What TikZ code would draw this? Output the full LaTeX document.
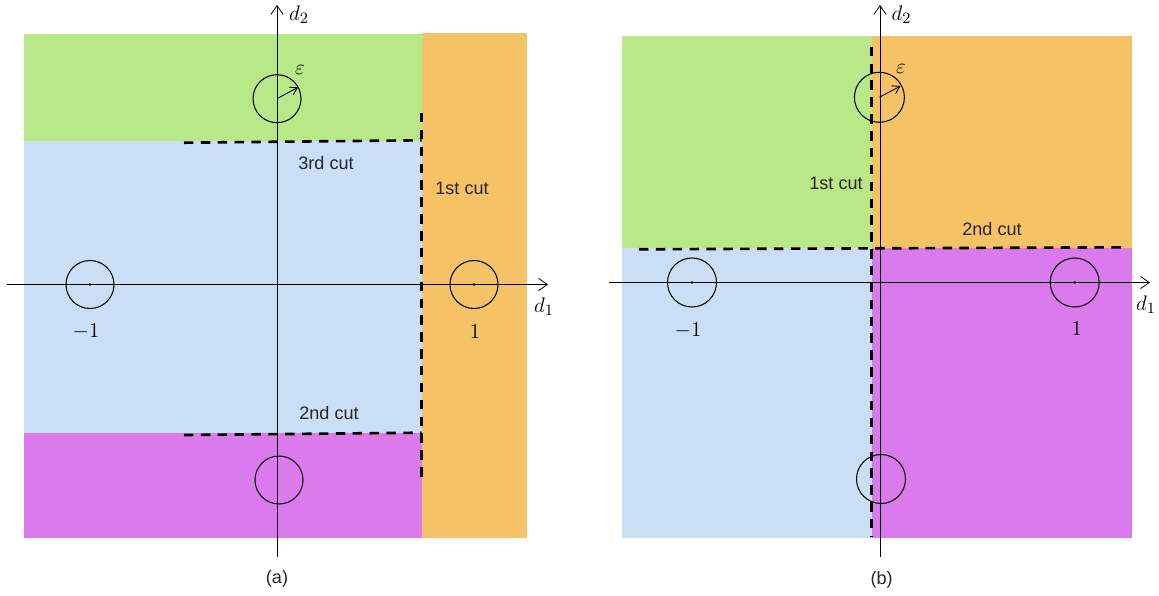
\documentclass[tikz,border=0pt]{standalone}
\usepackage{amsmath}
\usepackage{amssymb}
\usepackage{fontspec}
\newfontfamily\cutfont{Liberation Sans}
\usepackage{tikz}
\usetikzlibrary{arrows.meta}
\definecolor{greenreg}{RGB}{185,232,137}
\definecolor{bluereg}{RGB}{202,222,245}
\definecolor{purplereg}{RGB}{218,122,236}
\definecolor{orangereg}{RGB}{246,194,102}

\tikzset{
	>={Straight Barb[length=5pt,width=7pt]},
	axis/.style={->, line width=0.45pt},
	cut/.style={line width=1.5pt, dash pattern=on 5.4pt off 4.2pt},
	ball/.style={line width=0.6pt},
	radius arrow/.style={line width=0.5pt, -{Straight Barb[length=4pt,width=5pt]}},
	cutlabel/.style={font=\cutfont\fontsize{10.3}{12.4}\selectfont, text=black!85},
	mathlabel/.style={font=\fontsize{13}{15}\selectfont},
}

\begin{document}
\begin{tikzpicture}[x=0.02cm, y=-0.02cm]
	\useasboundingbox (0,0) rectangle (1159,595);

	% (a)
	\fill[greenreg] (24,34) rectangle (421.5,141);
	\fill[bluereg] (24,141) rectangle (421.5,433);
	\fill[purplereg] (24,433) rectangle (421.5,538);
	\fill[orangereg] (421.5,33) rectangle (527.4,538);

	\draw[cut] (184,142.7) -- (421.5,140.3);
	\draw[cut] (421.5,113) -- (421.5,477);
	\draw[cut] (184,435) -- (421.5,432.7);

	\draw[axis] (6.7,284.5) -- (548,284.5);
	\draw[axis] (277,556.7) -- (277,5);

	\draw[ball] (277,98.7) circle[radius=24];
	\draw[radius arrow] (277,98.7) -- (298,87.3);
	\draw[ball] (90,284.5) circle[radius=24];
	\fill (90,284.5) circle[radius=1.3];
	\draw[ball] (474,284.5) circle[radius=24];
	\fill (474,284.5) circle[radius=1.3];
	\draw[ball] (279,480) circle[radius=24];

	\node[mathlabel] (d2a) at (299,15) {$d_2$};
	\node[mathlabel] (d1a) at (544,307) {$d_1$};
	\node[mathlabel] (epsa) at (300,70) {$\varepsilon$};
	\node[mathlabel] (mona) at (86,332) {$-1$};
	\node[mathlabel] (onea) at (475,332) {$1$};
	\node[cutlabel] (cut3a) at (326,163) {3rd cut};
	\node[cutlabel] (cut1a) at (462,188) {1st cut};
	\node[cutlabel] (cut2a) at (329,413) {2nd cut};
	\node[cutlabel] (capa) at (277,579) {(a)};

	% (b)
	\fill[greenreg] (621.6,36) rectangle (871.5,248.3);
	\fill[orangereg] (871.5,36) rectangle (1131.7,248.3);
	\fill[bluereg] (621.6,248.3) rectangle (872,538.3);
	\fill[purplereg] (872,248.3) rectangle (1131.7,538.3);

	\draw[cut] (871.7,46.7) -- (871.7,536.7);
	\draw[cut] (639,249.3) -- (1126,247.3);

	\draw[axis] (609,282.5) -- (1150,282.5);
	\draw[axis] (880,556.7) -- (880,5);

	\draw[ball] (879.4,97.3) circle[radius=25];
	\draw[radius arrow] (879.4,97.3) -- (900.5,86);
	\draw[ball] (692,282.5) circle[radius=24.5];
	\fill (692,282.5) circle[radius=1.3];
	\draw[ball] (1074.7,282.5) circle[radius=24.5];
	\fill (1074.7,282.5) circle[radius=1.3];
	\draw[ball] (881,479) circle[radius=24.5];

	\node[mathlabel] (d2b) at (901.5,15) {$d_2$};
	\node[mathlabel] (d1b) at (1146,305) {$d_1$};
	\node[mathlabel] (epsb) at (901,69) {$\varepsilon$};
	\node[mathlabel] (monb) at (688,331) {$-1$};
	\node[mathlabel] (oneb) at (1076.7,329) {$1$};
	\node[cutlabel] (cut1b) at (836,183) {1st cut};
	\node[cutlabel] (cut2b) at (992,229) {2nd cut};
	\node[cutlabel] (capb) at (881.6,580) {(b)};
\end{tikzpicture}
\end{document}
